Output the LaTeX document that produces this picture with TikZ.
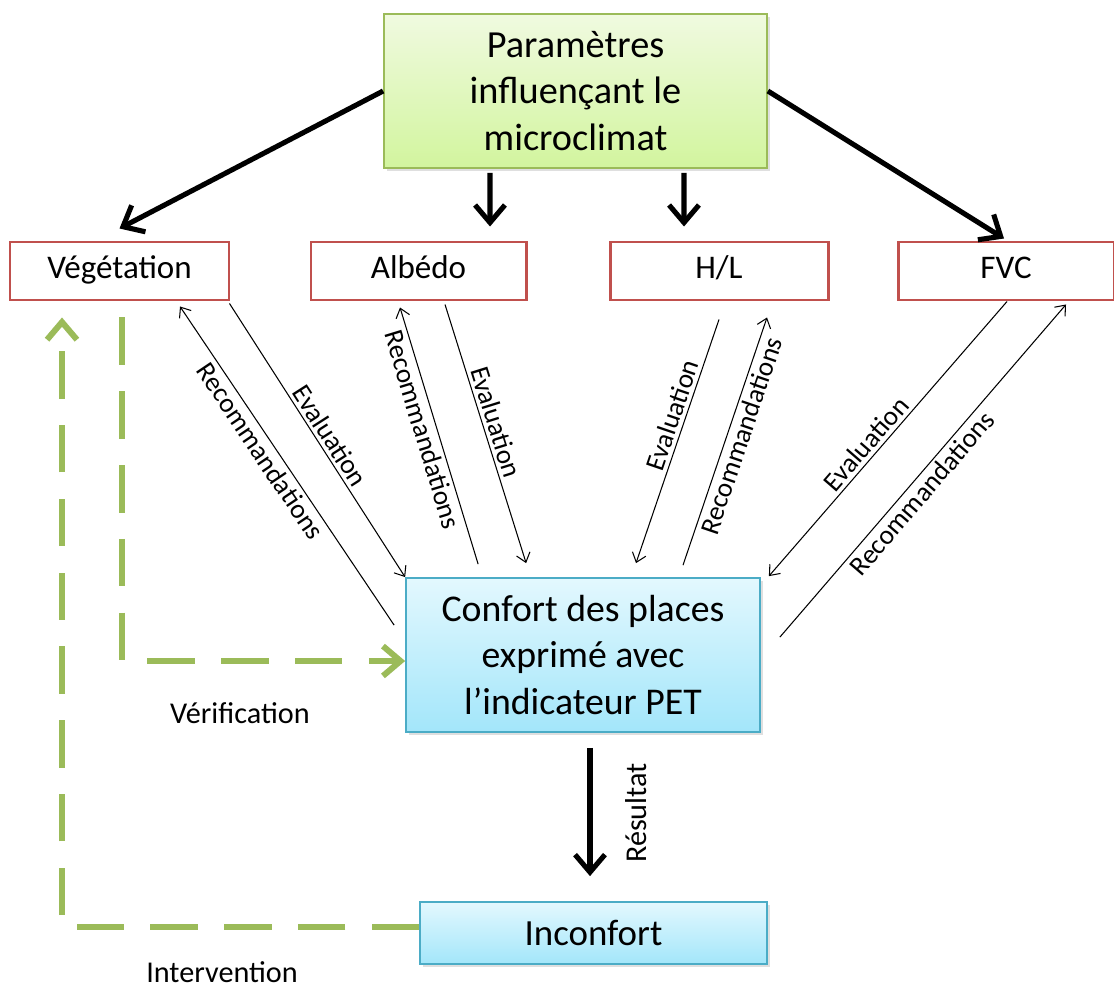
\documentclass[tikz,border=0pt]{standalone}
\usepackage{fontspec}
\setmainfont{Carlito}
\usetikzlibrary{arrows.meta,calc,shadows}

\newlength\px
\setlength\px{0.02cm}

\definecolor{leafgreen}{HTML}{9BBB59}
\definecolor{brickred}{HTML}{C0504D}
\definecolor{skyedge}{HTML}{4BACC6}

\begin{document}
\begin{tikzpicture}[x=\px,y=-\px,
  box/.style={draw, inner sep=0pt, align=center},
  param/.style={box, draw=leafgreen, line width=1pt,
    top color={rgb,255:red,240;green,250;blue,224}, bottom color={rgb,255:red,210;green,245;blue,158},
    minimum width=383\px, minimum height=154\px,
    drop shadow={shadow xshift=1.5pt, shadow yshift=-1.5pt, opacity=0.25},
    font=\fontsize{21.8}{26.6}\selectfont},
  factor/.style={box, draw=brickred, line width=1.7pt, fill=white,
    minimum height=58\px, text height=2.2ex, text depth=0.5ex,
    font=\fontsize{18.8}{21}\selectfont},
  comfort/.style={box, draw=skyedge, line width=1pt,
    top color={rgb,255:red,227;green,248;blue,254}, bottom color={rgb,255:red,163;green,230;blue,250},
    drop shadow={shadow xshift=1.5pt, shadow yshift=-1.5pt, opacity=0.25}},
  push/.style={-{Straight Barb[length=10pt,width=17pt]}, line width=2.9pt},
  link/.style={-{Straight Barb[length=5pt,width=8pt]}, line width=0.6pt},
  checkline/.style={-{Straight Barb[length=10pt,width=17pt]}, draw=leafgreen,
    line width=3.4pt, dash pattern=on 27pt off 15pt},
  lbl/.style={font=\fontsize{15.5}{18}\selectfont, sloped, inner sep=2pt},
  note/.style={font=\fontsize{17.2}{20}\selectfont, inner sep=0pt}
]
\useasboundingbox (0,0) rectangle (1114,989);

% boxes
\node[param] (param) at (575.5,91) {Paramètres\\influençant le\\microclimat};

\node[factor, minimum width=219\px] (veg) at (119.5,271) {Végétation};
\node[factor, minimum width=215\px] (alb) at (418.5,271) {Albédo};
\node[factor, minimum width=218\px] (hl)  at (719,271)   {H/L};
\node[factor, minimum width=216\px] (fvc) at (1006,271)  {FVC};

\node[comfort, minimum width=354\px, minimum height=154\px,
  font=\fontsize{21.5}{26.6}\selectfont] (confort) at (583,655)
  {Confort des places\\exprimé avec\\l’indicateur PET};
\node[comfort, minimum width=347\px, minimum height=62\px,
  font=\fontsize{21}{25}\selectfont] (inconf) at (593.5,933) {Inconfort};

% thick arrows
\draw[push] (param.west) -- ($(veg.north)+(0,-12)$);
\draw[push] ($(param.south)+(-85.5,4)$) -- ($(alb.north)+(71.5,-14)$);
\draw[push] ($(param.south)+(108.5,4)$) -- ($(hl.north)+(-35,-14)$);
\draw[push] (param.east) -- ($(fvc.north)+(-2,-2)$);
\draw[push] ($(confort.south)+(7,15)$) -- ($(inconf.north)+(-3.5,-25)$);
\node[note, rotate=90] (result) at (636,813) {Résultat};

% evaluation / recommandations
\draw[link] ($(confort.north west)+(-11,48)$) -- node[lbl,pos=0.57,below] (recveg) {Recommandations} ($(veg.south)+(60.5,5)$);
\draw[link] ($(veg.south east)+(-1,2)$) -- node[lbl,pos=0.51,above] (evalveg) {Evaluation} (confort.north west);

\draw[link] ($(confort.north west)+(73,-13)$) -- node[lbl,pos=0.54,below] (recalb) {Recommandations} ($(alb.south)+(-18.5,6)$);
\draw[link] ($(alb.south)+(26.5,3)$) -- node[lbl,pos=0.47,above] (evalalb) {Evaluation} ($(confort.north west)+(121,-14)$);

\draw[link] ($(hl.south)+(0,18)$) -- node[lbl,pos=0.41,above] (evalhl) {Evaluation} ($(confort.north)+(53,-14)$);
\draw[link] ($(confort.north)+(100,-12)$) -- node[lbl,pos=0.54,below] (rechl) {Recommandations} ($(hl.south)+(48,16)$);

\draw[link] ($(fvc.south)+(1,0)$) -- node[lbl,pos=0.55,above] (evalfvc) {Evaluation} ($(confort.north east)+(8,-1)$);
\draw[link] ($(confort.north east)+(19,60)$) -- node[lbl,pos=0.46,below] (recfvc) {Recommandations} ($(fvc.south)+(60,3)$);

% dashed loops
\draw[checkline] ($(veg.south)+(2.5,16)$) |- ($(confort.west)+(0,6)$);
\node[note] (verif) at (240,713) {Vérification};

\draw[checkline] ($(inconf.west)+(0,-6)$) -| ($(veg.south)+(-57.5,16)$);
\node[note] (interv) at (222,972) {Intervention};
\end{tikzpicture}
\end{document}
